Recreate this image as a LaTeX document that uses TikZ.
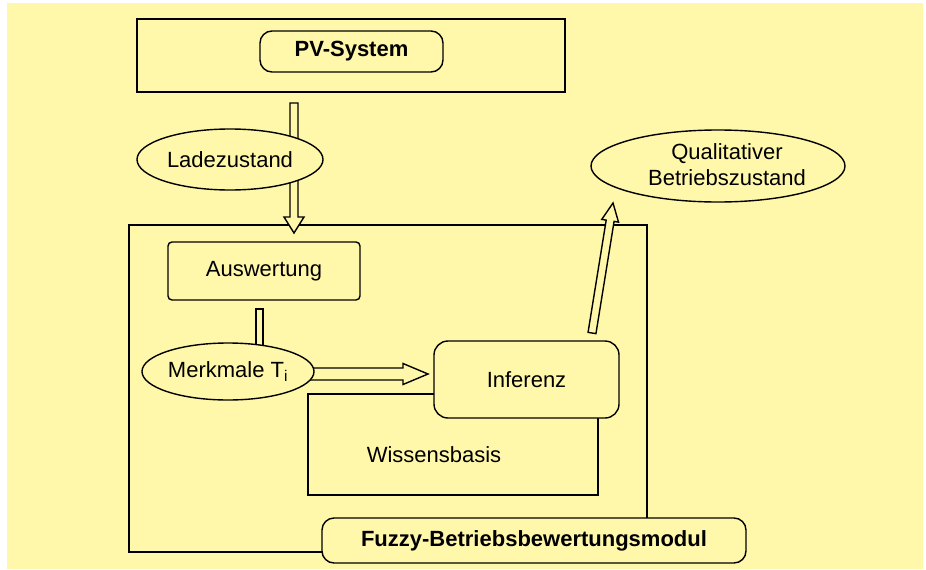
\documentclass[tikz,border=0pt]{standalone}
\usepackage{fontspec}
\setmainfont{Liberation Sans}
\usetikzlibrary{shapes.geometric,calc}
\definecolor{bg}{RGB}{255,248,170}
% #1 start, #2 tip, #3 half shaft width, #4 half head width, #5 head length
\newcommand\hollowarrow[5]{%
  \coordinate (hc) at ($(#2)!#5!(#1)$);
  \filldraw[fill=bg, line join=miter]
    ($(#1)!#3!90:(#2)$) -- ($(hc)!#3!90:(#2)$) -- ($(hc)!#4!90:(#2)$) -- (#2)
    -- ($(hc)!#4!-90:(#2)$) -- ($(hc)!#3!-90:(#2)$) -- ($(#1)!#3!-90:(#2)$) -- cycle;
}
\begin{document}
\begin{tikzpicture}[x=1pt, y=-1pt, line width=1.4pt,
  box/.style={draw, fill=bg, inner sep=0pt},
  rbox/.style={box, rounded corners=12pt},
  oval/.style={draw, fill=bg, ellipse, inner sep=0pt},
  lbl/.style={font=\fontsize{22}{26}\selectfont},
  blbl/.style={font=\fontsize{22}{26}\selectfont\bfseries},
]
\useasboundingbox (0,0) rectangle (926,570);
\fill[white] (0,0) rectangle (926,570);
\fill[bg] (7,3) rectangle (923,569);

% PV system
\node[box, minimum width=428pt, minimum height=73pt] (pvouter) at (351,55.5) {};
\node[rbox, minimum width=183pt, minimum height=41pt, blbl] (pvsys) at (351.5,51.5) {PV-System};

% Fuzzy module outer frame
\node[box, minimum width=518pt, minimum height=327pt] (fuzzy) at (388,388.5) {};

% arrow PV -> module
\coordinate (pvA) at (294,103);
\coordinate (pvB) at (294,233);
\hollowarrow{pvA}{pvB}{4pt}{10pt}{16pt}

% Ladezustand
\node[oval, minimum width=186pt, minimum height=61pt, lbl] (lade) at (230,159.5) {Ladezustand};

% Auswertung
\node[box, rounded corners=4pt, minimum width=192pt, minimum height=58pt, lbl] (ausw) at (264,271) {Auswertung};

% shaft Auswertung -> Merkmale
\coordinate (shA) at (256,309);
\coordinate (shB) at (263,348);
\filldraw[fill=bg] (shA) rectangle (shB);

% arrow Merkmale -> Inferenz
\coordinate (mkA) at (300,374);
\coordinate (mkB) at (428,374);
\hollowarrow{mkA}{mkB}{6pt}{10.5pt}{25pt}

% Merkmale
\node[oval, minimum width=172pt, minimum height=57pt, lbl] (merk) at (228,371.5) {Merkmale T\textsubscript{i}};

% Wissensbasis and Inferenz
\node[box, minimum width=290pt, minimum height=101pt] (wissen) at (453,444.5) {};
\node[lbl] (wissentext) at (434,455) {Wissensbasis};
\node[box, rounded corners=14pt, minimum width=185pt, minimum height=77pt, lbl] (inf) at (526.5,379.5) {Inferenz};

% arrow Inferenz -> Qualitativer Betriebszustand
\coordinate (qA) at (592,333);
\coordinate (qB) at (613,203);
\hollowarrow{qA}{qB}{4pt}{8.5pt}{18pt}

\node[oval, minimum width=254pt, minimum height=72pt] (qual) at (718,166) {};
\node[lbl, align=center] (qualtext) at (727,165) {Qualitativer\\Betriebszustand};

% module label
\node[rbox, minimum width=424pt, minimum height=45pt, blbl] (fuzzylbl) at (534,540.5) {Fuzzy-Betriebsbewertungsmodul};
\end{tikzpicture}
\end{document}
